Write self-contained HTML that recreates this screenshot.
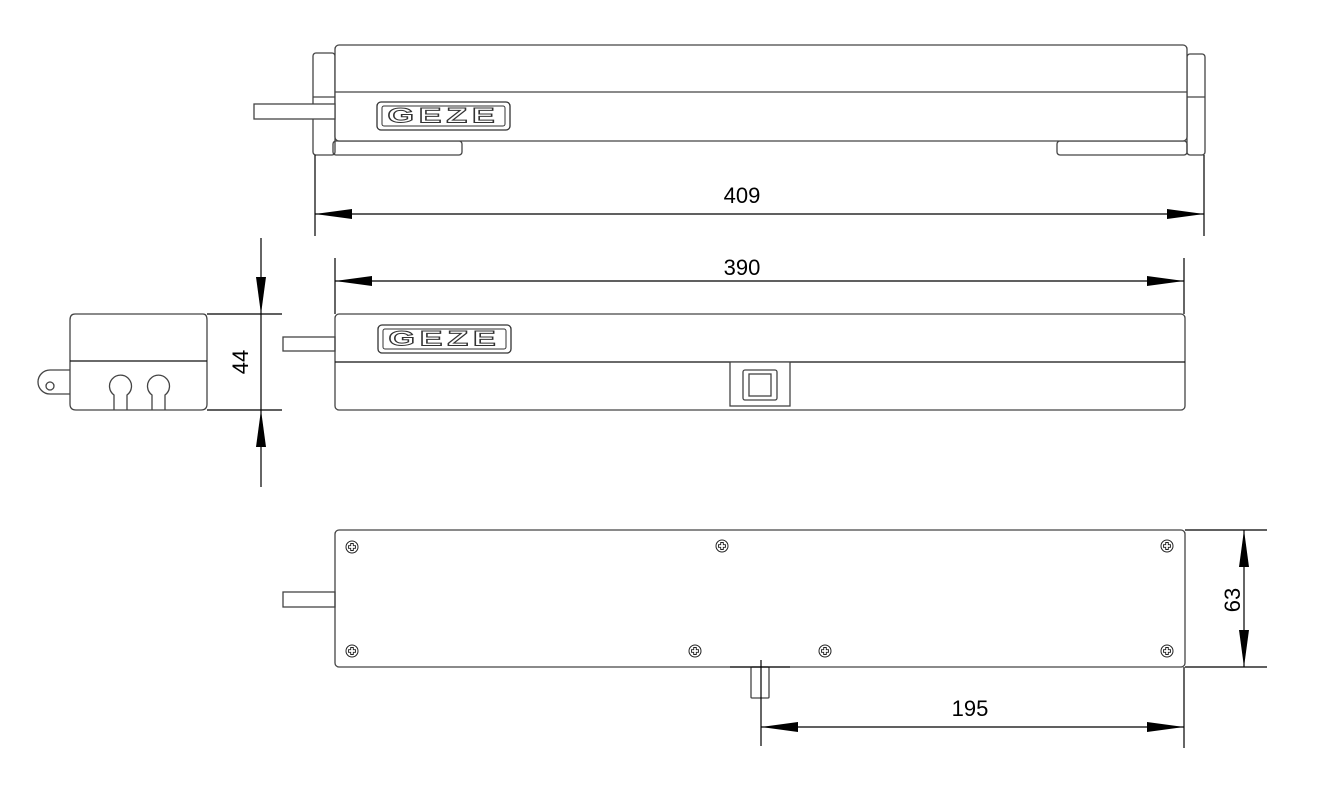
<!DOCTYPE html>
<html><head><meta charset="utf-8"><style>html,body{margin:0;padding:0;background:#fff}svg{display:block}</style></head><body>
<svg width="1340" height="790" viewBox="0 0 1340 790" xmlns="http://www.w3.org/2000/svg" font-family="'Liberation Sans',sans-serif">
<defs>
<g id="logo">
<rect x="0" y="0" width="133" height="28" rx="4" fill="none" stroke="#333" stroke-width="1.3"/>
<rect x="5" y="4" width="123" height="20" rx="2" fill="none" stroke="#333" stroke-width="1"/>
<text x="66.5" y="20.5" text-anchor="middle" font-size="21" font-weight="bold" fill="#fff" stroke="#333" stroke-width="1" letter-spacing="3" textLength="112" lengthAdjust="spacingAndGlyphs">GEZE</text>
</g>
<g id="scr"><circle r="6" fill="none" stroke="#222" stroke-width="1"/><path d="M-1.3,-3.5h2.6v2.2h2.2v2.6h-2.2v2.2h-2.6v-2.2h-2.2v-2.6h2.2z" fill="none" stroke="#222" stroke-width="0.9"/></g>
</defs>
<g fill="none" stroke="#444" stroke-width="1.3">
<!-- top view -->
<rect x="313" y="53" width="22" height="102" rx="3"/>
<line x1="313" y1="97" x2="335" y2="97"/>
<rect x="333" y="141" width="129" height="14" rx="3"/>
<rect x="1187" y="54" width="18" height="101" rx="3"/>
<line x1="1187" y1="97" x2="1205" y2="97"/>
<rect x="1057" y="141" width="130" height="14" rx="3"/>
<rect x="335" y="45" width="852" height="96" rx="4" fill="#fff"/>
<line x1="335" y1="92" x2="1187" y2="92"/>
<rect x="254" y="104" width="81" height="15" fill="#fff"/>
<!-- middle -->
<rect x="335" y="314" width="850" height="96" rx="4"/>
<line x1="335" y1="362" x2="1185" y2="362" stroke="#111"/>
<rect x="283" y="337" width="52" height="14"/>
<rect x="730" y="362" width="60" height="44" fill="#fff"/>
<rect x="743" y="370" width="34" height="30" rx="2"/>
<rect x="749" y="374" width="22" height="22"/>
<!-- side -->
<path d="M75,314 H203 Q207,314 207,320 V404 Q207,410 201,410 H76 Q70,410 70,404 V320 Q70,314 75,314 Z"/>
<line x1="70" y1="361" x2="207" y2="361" stroke="#111"/>
<path d="M70,370 H50 A12,12 0 0 0 50,394 H70"/>
<circle cx="50" cy="386" r="4"/>
<path d="M114,410 V395 A11,11 0 1 1 127,395 V410"/>
<path d="M152,410 V395 A11,11 0 1 1 165,395 V410"/>
<!-- bottom view -->
<rect x="335" y="530" width="850" height="137" rx="4"/>
<rect x="283" y="592" width="52" height="15"/>
<rect x="751" y="667" width="18" height="31" rx="1"/>
<line x1="730" y1="667" x2="790" y2="667" stroke="#111"/>
</g>
<use href="#logo" x="377" y="102"/>
<use href="#logo" x="378" y="325"/>
<use href="#scr" x="352" y="547"/><use href="#scr" x="722" y="546"/><use href="#scr" x="1167" y="546"/>
<use href="#scr" x="352" y="651"/><use href="#scr" x="695" y="651"/><use href="#scr" x="825" y="651"/><use href="#scr" x="1167" y="651"/>
<!-- dimensions -->
<g stroke="#000" stroke-width="1.2" fill="none">
<line x1="315" y1="155" x2="315" y2="236"/><line x1="1204" y1="155" x2="1204" y2="236"/>
<line x1="315" y1="214" x2="1204" y2="214"/>
<line x1="335" y1="258" x2="335" y2="314"/><line x1="1184" y1="258" x2="1184" y2="314"/>
<line x1="335" y1="281" x2="1184" y2="281"/>
<line x1="207" y1="314" x2="282" y2="314"/><line x1="207" y1="410" x2="282" y2="410"/>
<line x1="261" y1="238" x2="261" y2="487"/>
<line x1="761" y1="660" x2="761" y2="746"/><line x1="1184" y1="667" x2="1184" y2="748"/>
<line x1="761" y1="727" x2="1184" y2="727"/>
<line x1="1185" y1="530" x2="1267" y2="530"/><line x1="1185" y1="667" x2="1267" y2="667"/>
<line x1="1244" y1="530" x2="1244" y2="667"/>
</g>
<g fill="#000">
<path d="M315,214 l37,-5 v10z"/><path d="M1204,214 l-37,-5 v10z"/>
<path d="M335,281 l37,-5 v10z"/><path d="M1184,281 l-37,-5 v10z"/>
<path d="M261,314 l-5,-37 h10z"/><path d="M261,410 l-5,37 h10z"/>
<path d="M761,727 l37,-5 v10z"/><path d="M1184,727 l-37,-5 v10z"/>
<path d="M1244,530 l-5,37 h10z"/><path d="M1244,667 l-5,-37 h10z"/>
</g>
<g font-size="22" fill="#000" text-anchor="middle">
<text x="742" y="203">409</text>
<text x="742" y="275">390</text>
<text x="970" y="716">195</text>
<text transform="translate(248,362) rotate(-90)">44</text>
<text transform="translate(1240,600) rotate(-90)">63</text>
</g>
</svg>
</body></html>
